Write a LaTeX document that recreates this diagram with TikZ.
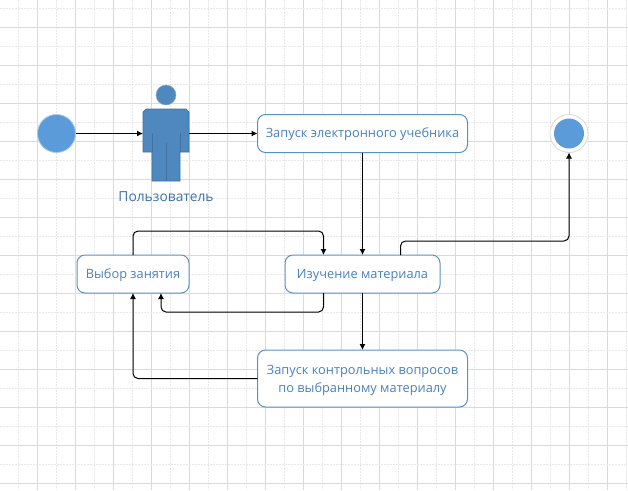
\documentclass[tikz,border=0pt]{standalone}
\usepackage{fontspec}
\setmainfont{Open Sans}
\usetikzlibrary{arrows.meta}
\definecolor{gridmajor}{HTML}{DADADA}
\definecolor{gridminor}{HTML}{E8E8E8}
\definecolor{boxline}{HTML}{5B90C6}
\definecolor{boxtext}{HTML}{4A80BC}
\definecolor{usertext}{HTML}{3F72A8}
\definecolor{userfill}{HTML}{4F88BE}
\definecolor{userline}{HTML}{41719C}
\definecolor{dotfill}{HTML}{5B9BD9}
\newcommand{\lowered}[1]{\raisebox{-1pt}[\height][\depth]{#1}}
\tikzset{
  state/.style={draw=boxline,fill=white,line width=1pt,rounded corners=8pt,text=boxtext,
    font=\fontsize{12.8}{18}\selectfont,align=center,inner sep=0pt,outer sep=0pt},
  flow/.style={draw=black,line width=1pt,rounded corners=5pt,-{Latex[length=6pt,width=6pt]}},
  dot/.style={circle,fill=dotfill,inner sep=0pt,outer sep=0pt},
  minorline/.style={gridminor,line width=0.8pt,dash pattern=on 2pt off 1pt}
}
\begin{document}
\begin{tikzpicture}[x=1pt,y=-1pt]
  \useasboundingbox (0,0) rectangle (628,490);
  \fill[white] (0,0) rectangle (628,490);
  \foreach \k in {0,...,16} {
    \draw[minorline] ({18.5+38*\k},0) -- ({18.5+38*\k},490);
    \draw[gridmajor,line width=0.9pt] ({37.5+38*\k},0) -- ({37.5+38*\k},490);
  }
  \foreach \k in {0,...,12} {
    \draw[minorline] (0,{8.5+38*\k}) -- (628,{8.5+38*\k});
    \draw[gridmajor,line width=0.9pt] (0,{27.5+38*\k}) -- (628,{27.5+38*\k});
  }
  \node[dot,draw=boxline!50,line width=0.8pt,minimum size=38pt] (start) at (56.5,133.5) {};
  \node[circle,draw=gridmajor,fill=white,line width=0.8pt,minimum size=38pt,inner sep=0pt,outer sep=0pt] (stop) at (569,133.5) {};
  \node[dot,minimum size=30pt] at (stop.center) {};
  \node[circle,fill=userfill,draw=userline!60,line width=0.5pt,minimum size=20pt,inner sep=0pt] (head) at (166,95) {};
  \node[minimum width=46pt,minimum height=43pt,inner sep=0pt,outer sep=0pt] (user) at (166,130.5) {};
  \draw[fill=userfill,draw=userline,line width=0.7pt] (146,109) -- (186,109) -- (189,112) -- (189,152)
    -- (180,152) -- (180,181) -- (152,181) -- (152,152) -- (143,152) -- (143,112) -- cycle;
  \draw[userline,line width=0.7pt] (152,133) -- (152,152) (180,133) -- (180,152) (166,143) -- (166,181);
  \node[text=usertext,font=\fontsize{13.8}{16}\selectfont] (userlabel) at (166,196.5) {Пользователь};
  \node[state,minimum width=210pt,minimum height=38pt] (launch) at (362.5,133.5) {\lowered{Запуск электронного учебника}};
  \node[state,minimum width=155pt,minimum height=38pt] (study) at (362.5,274) {\lowered{Изучение материала}};
  \node[state,minimum width=112pt,minimum height=38pt] (choice) at (133,274) {\lowered{Выбор занятия}};
  \node[state,minimum width=210pt,minimum height=57pt] (quiz) at (362.5,378.5) {\rule{0pt}{14pt}Запуск контрольных вопросов\\по выбранному материалу};
  \draw[flow] (start.east) -- (start.east -| user.west);
  \draw[flow] (launch.west -| user.east) -- (launch.west);
  \draw[flow] (launch.south) -- (launch.south |- study.north);
  \draw[flow] (study.south) -- (study.south |- quiz.north);
  \draw[flow] ([xshift=38pt]study.north) -- ++(0,-14) -| (stop.south);
  \draw[flow] (choice.north) -- ++(0,-24) -| ([xshift=-39pt]study.north);
  \draw[flow] ([xshift=-39pt]study.south) -- ++(0,19) -| ([xshift=28pt]choice.south);
  \draw[flow] (quiz.west) -| (choice.south);
\end{tikzpicture}
\end{document}
